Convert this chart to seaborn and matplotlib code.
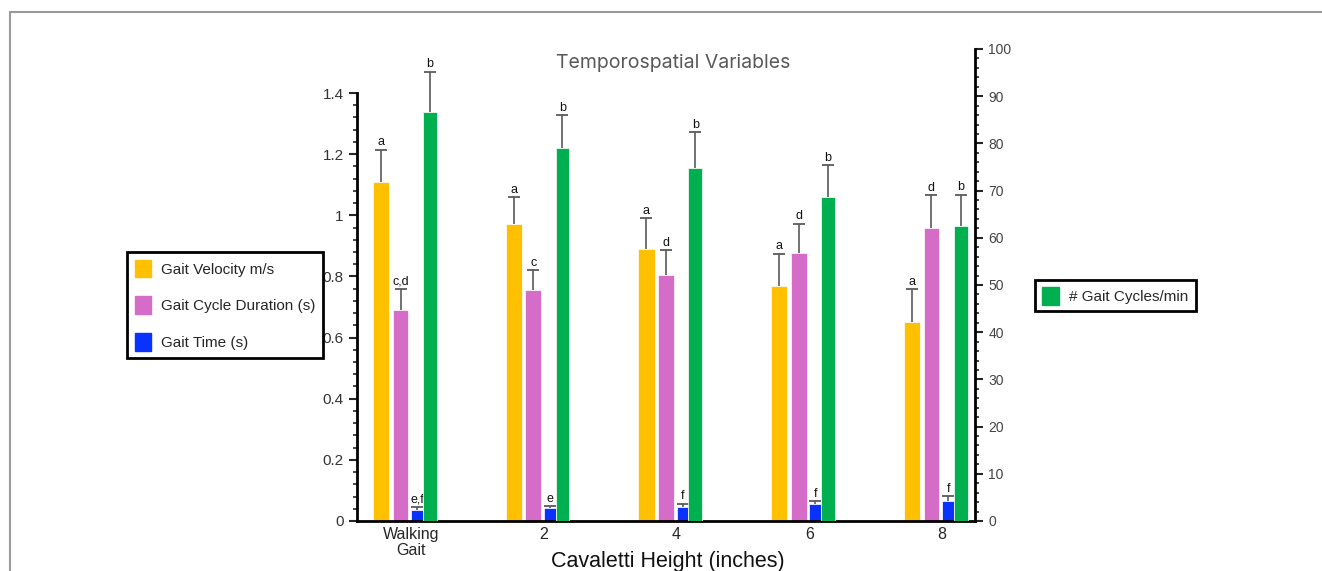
import numpy as np
import seaborn as sns
import matplotlib.pyplot as plt
from matplotlib.patches import Patch
from matplotlib.lines import Line2D
from matplotlib.ticker import FixedLocator, FuncFormatter

# Data
heights = ['Walking\nGait', '2', '4', '6', '8']

velocity = [1.11, 0.97, 0.89, 0.77, 0.65]
velocity_err = [0.105, 0.09, 0.10, 0.105, 0.108]
velocity_sig = ['a', 'a', 'a', 'a', 'a']

cycle_dur = [0.69, 0.756, 0.805, 0.877, 0.958]
cycle_dur_err = [0.07, 0.065, 0.08, 0.095, 0.108]
cycle_dur_sig = ['c,d', 'c', 'd', 'd', 'd']

gait_time = [0.036, 0.043, 0.046, 0.056, 0.065]
gait_time_err = [0.01, 0.006, 0.01, 0.009, 0.017]
gait_time_sig = ['e,f', 'e', 'f', 'f', 'f']

cycles_min = [86.7, 79.0, 74.8, 68.6, 62.5]
cycles_min_err = [8.5, 7.0, 7.6, 6.8, 6.6]
cycles_min_sig = ['b', 'b', 'b', 'b', 'b']

c_vel = '#FFC000'
c_dur = '#D56DC8'
c_time = '#0A32FF'
c_cyc = '#00B050'

sns.set_style('white')
plt.rcParams['font.family'] = ['Liberation Sans', 'DejaVu Sans']

fig = plt.figure(figsize=(13.22, 5.71), dpi=100)
ax = fig.add_axes([357/1322, 1-521/571, (975-357)/1322, (521-49)/571])
ax2 = ax.twinx()

x = np.arange(len(heights))


def bars(axis, vals, errs, sig, off, w, color):
    pos = x + off
    sns.barplot(x=pos, y=vals, native_scale=True, width=w, color=color,
                errorbar=None, saturation=1, edgecolor='white', linewidth=0.5,
                ax=axis)
    tops = np.array(vals) + np.array(errs)
    axis.vlines(pos, vals, tops, color='#5a5a5a', lw=1.2, zorder=3)
    axis.plot(pos, tops, ls='none', marker='_', ms=8, mew=1.3,
              color='#5a5a5a', zorder=3)
    for p, t, s in zip(pos, tops, sig):
        axis.annotate(s, (p, t), xytext=(0, 1), textcoords='offset points',
                      ha='center', va='bottom', fontsize=9, color='#111111')


bars(ax, velocity, velocity_err, velocity_sig, -0.226, 0.122, c_vel)
bars(ax, cycle_dur, cycle_dur_err, cycle_dur_sig, -0.079, 0.118, c_dur)
bars(ax, gait_time, gait_time_err, gait_time_sig, 0.046, 0.088, c_time)
bars(ax2, cycles_min, cycles_min_err, cycles_min_sig, 0.141, 0.104, c_cyc)

ax.set_xlim(-0.407, 4.249)
ax.set_ylim(0, 1.544)
ax2.set_ylim(0, 100)

# left axis
ax.yaxis.set_major_locator(FixedLocator(np.arange(0, 1.41, 0.2)))
ax.yaxis.set_minor_locator(FixedLocator(np.arange(0, 1.401, 0.04)))
ax.yaxis.set_major_formatter(FuncFormatter(lambda v, p: f'{v:g}'))
ax.tick_params(axis='y', which='major', direction='out', length=6, width=1.5,
               labelsize=11, labelcolor='#333333', left=True)
ax.tick_params(axis='y', which='minor', direction='out', length=3, width=1.2,
               left=True)
ax.set_xticks(x)
ax.set_xticklabels(heights, fontsize=11.5, linespacing=1.15)
ax.tick_params(axis='x', length=0, pad=4)
ax.spines['left'].set_bounds(0, 1.4)
for s in ['left', 'bottom']:
    ax.spines[s].set_linewidth(2)
    ax.spines[s].set_color('black')
for s in ['top', 'right']:
    ax.spines[s].set_visible(False)

# right axis
ax2.yaxis.set_major_locator(FixedLocator(np.arange(0, 101, 10)))
ax2.yaxis.set_minor_locator(FixedLocator(np.arange(0, 101, 2)))
ax2.tick_params(axis='y', which='major', direction='out', length=6, width=1.5,
                labelsize=10, labelcolor='#444444', right=True)
ax2.tick_params(axis='y', which='minor', direction='out', length=3, width=1.2,
                right=True)
ax2.spines['right'].set_linewidth(2)
ax2.spines['right'].set_color('black')
for s in ['top', 'left', 'bottom']:
    ax2.spines[s].set_visible(False)
ax.set_ylabel('')
ax2.set_ylabel('')

fig.text(668/1322, 1-567/571, 'Cavaletti Height (inches)', ha='center',
         va='baseline', fontsize=15.5, color='#111111')
ax.text(0.511, 0.97, 'Temporospatial Variables', transform=ax.transAxes,
        ha='center', va='center', fontsize=14, color='#595959',
        family=['Inter', 'DejaVu Sans'])

# legends
h_left = [Patch(color=c_vel, label='Gait Velocity m/s'),
          Patch(color=c_dur, label='Gait Cycle Duration (s)'),
          Patch(color=c_time, label='Gait Time (s)')]
leg1 = fig.legend(handles=h_left, loc='upper left',
                  bbox_to_anchor=(127/1322, 1-252/571), borderaxespad=0,
                  fontsize=11, handlelength=1.1, handleheight=1.4,
                  labelspacing=1.25, handletextpad=0.6, borderpad=0.5,
                  fancybox=False, edgecolor='black', framealpha=1)
leg1.get_frame().set_linewidth(2)

h_right = [Patch(color=c_cyc, label='# Gait Cycles/min')]
leg2 = fig.legend(handles=h_right, loc='upper left',
                  bbox_to_anchor=(1035/1322, 1-280/571), borderaxespad=0,
                  fontsize=11, handlelength=1.1, handleheight=1.4,
                  handletextpad=0.7, borderpad=0.45,
                  fancybox=False, edgecolor='black', framealpha=1)
leg2.get_frame().set_linewidth(2)

# grey page frame
fig.add_artist(Line2D([9.5/1322, 1], [1-11.5/571, 1-11.5/571],
                      color='#9a9a9a', lw=1.5))
fig.add_artist(Line2D([9.5/1322, 9.5/1322], [0, 1-11.5/571],
                      color='#9a9a9a', lw=1.5))

fig.savefig('out.png', dpi=100)
